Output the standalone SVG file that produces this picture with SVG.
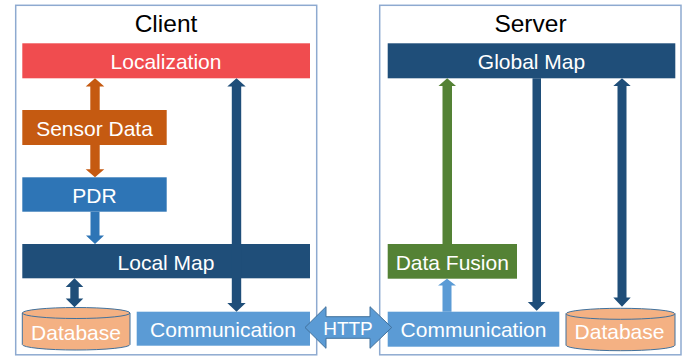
<svg xmlns="http://www.w3.org/2000/svg" width="694" height="356" viewBox="0 0 694 356">
<style>
.frame{fill:#ffffff;stroke:#8eaad0;stroke-width:1.5}
.lbl{font-family:"Liberation Sans",Arial,sans-serif;font-size:21px;fill:#ffffff;text-anchor:middle}
.title{font-family:"Liberation Sans",Arial,sans-serif;font-size:24.5px;fill:#000000;text-anchor:middle}
.db{fill:#f4b183;stroke:#41719c;stroke-width:1}
.dark{fill:#1f4e79}
.orange{fill:#c55a11}
.green{fill:#548235}
.pdr{fill:#2e75b6}
.light{fill:#5b9bd5}
</style>
<rect width="694" height="356" fill="#ffffff"/>
<g id="client-frame">
<rect class="frame" x="15.7" y="5.3" width="301" height="349.5"/>
<text class="title" x="166" y="31.5">Client</text>
</g>
<g id="server-frame">
<rect class="frame" x="379.7" y="5.3" width="301.3" height="349.5"/>
<text class="title" x="530.5" y="31.5">Server</text>
</g>
<g id="localization">
<rect x="22.3" y="43.3" width="287.7" height="35" fill="#f04c4f"/>
<text class="lbl" x="166" y="68.8">Localization</text>
</g>
<g id="sensor-data">
<rect class="orange" x="22.3" y="110" width="144.4" height="35"/>
<text class="lbl" x="94.5" y="135.5">Sensor Data</text>
</g>
<g id="pdr">
<rect class="pdr" x="22.3" y="177.3" width="144.4" height="34.4"/>
<text class="lbl" x="94.5" y="202.5">PDR</text>
</g>
<g id="local-map">
<rect class="dark" x="22.3" y="244" width="287.7" height="34.3"/>
<text class="lbl" x="166" y="269.5">Local Map</text>
</g>
<g id="client-database">
<path class="db" d="M22.3,313 L22.3,344.5 A53.85,5.5 0 0 0 130,344.5 L130,313 A53.85,5.5 0 0 0 22.3,313 Z"/>
<path d="M22.3,313 A53.85,5.5 0 0 0 130,313" fill="none" stroke="#41719c" stroke-width="1"/>
<text class="lbl" x="76" y="340">Database</text>
</g>
<g id="client-communication">
<rect class="light" x="136.7" y="311.7" width="173.3" height="34"/>
<text class="lbl" x="223" y="337">Communication</text>
</g>
<g id="global-map">
<rect class="dark" x="387.7" y="43.3" width="287.6" height="35"/>
<text class="lbl" x="531.5" y="68.8">Global Map</text>
</g>
<g id="data-fusion">
<rect class="green" x="387.7" y="244" width="129.3" height="34.7"/>
<text class="lbl" x="452.3" y="269.5">Data Fusion</text>
</g>
<g id="server-communication">
<rect class="light" x="387.7" y="311.7" width="171.6" height="35"/>
<text class="lbl" x="473.5" y="337">Communication</text>
</g>
<g id="server-database">
<path class="db" d="M566,313.8 L566,345.2 A54.5,5.5 0 0 0 675,345.2 L675,313.8 A54.5,5.5 0 0 0 566,313.8 Z"/>
<path d="M566,313.8 A54.5,5.5 0 0 0 675,313.8" fill="none" stroke="#41719c" stroke-width="1"/>
<text class="lbl" x="619.5" y="338.5">Database</text>
</g>
<g id="connectors">
<polygon class="orange" points="95,78.3 104.3,86.5 99.7,86.5 99.7,110 90.3,110 90.3,86.5 85.7,86.5"/>
<polygon class="orange" points="90.3,145 99.7,145 99.7,169.3 104.3,169.3 95,177.3 85.7,169.3 90.3,169.3"/>
<polygon class="pdr" points="90.5,211.7 99.5,211.7 99.5,235.5 104,235.5 95,244 86,235.5 90.5,235.5"/>
<polygon class="dark" points="74.5,278.3 83.3,287 78.7,287 78.7,298.5 83.3,298.5 74.5,307.3 65.7,298.5 70.3,298.5 70.3,287 65.7,287"/>
<polygon class="dark" points="236.5,78.3 245.7,86.5 241.2,86.5 241.2,303 245.7,303 236.5,311.7 227.3,303 231.8,303 231.8,86.5 227.3,86.5"/>
<polygon class="green" points="447.2,78.3 456,86 452,86 452,244 442.5,244 442.5,86 438.5,86"/>
<polygon class="light" points="447,278.7 456,285.5 451.5,285.5 451.5,311.7 442.5,311.7 442.5,285.5 438,285.5"/>
<polygon class="dark" points="532.5,78.3 541,78.3 541,302 545.5,302 536.7,310.7 527.8,302 532.5,302"/>
<polygon class="dark" points="622,78.3 630.7,86 626.5,86 626.5,297.5 630.7,297.5 622,306.7 613.3,297.5 617.5,297.5 617.5,86 613.3,86"/>
<g id="http">
<polygon points="305,327.5 326,306.7 326,316.7 370,316.7 370,306.7 391.7,327.5 370,348.3 370,338.3 326,338.3 326,348.3" fill="#5b9bd5" stroke="#41719c" stroke-width="1"/>
<text class="lbl" x="348" y="334.5" style="font-size:19px">HTTP</text>
</g>
</g>
</svg>
